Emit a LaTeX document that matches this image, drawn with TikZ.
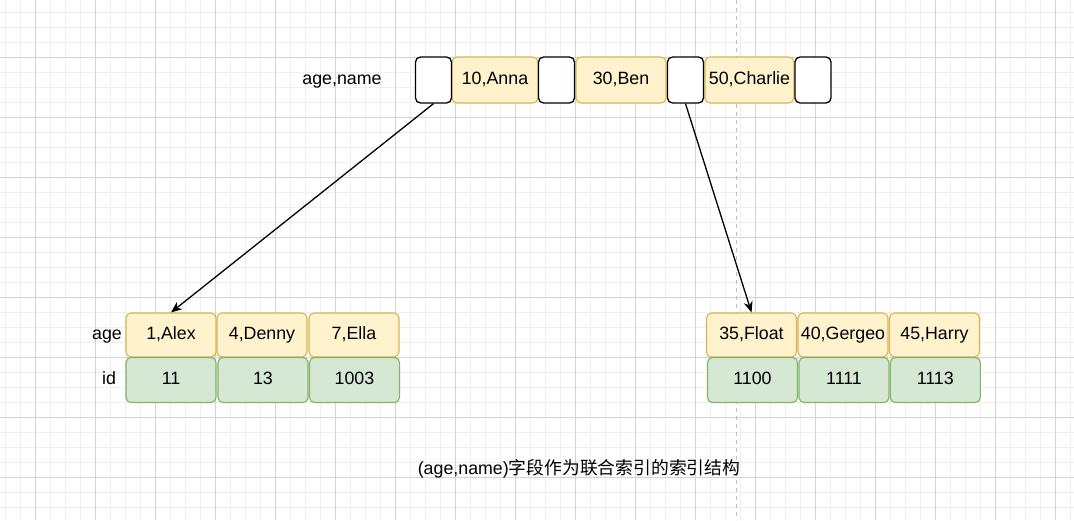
\documentclass[tikz,border=0pt]{standalone}
\usepackage{fontspec}
\setmainfont{Liberation Sans}
\newfontfamily\cjk{Noto Sans CJK SC}
\usetikzlibrary{arrows.meta}
\definecolor{keyfill}{HTML}{FFF2CC}
\definecolor{keydraw}{HTML}{D6B656}
\definecolor{idfill}{HTML}{D5E8D4}
\definecolor{iddraw}{HTML}{82B366}
\definecolor{gridminor}{HTML}{EFEFEF}
\definecolor{gridmajor}{HTML}{D3D3D3}
\definecolor{guide}{HTML}{BDBDBD}
\tikzset{
  cell/.style={rectangle, rounded corners=5pt, inner sep=0pt, line width=1.1pt,
    minimum height=45pt, text height=13pt, text depth=4pt, font=\fontsize{17.8}{20}\selectfont},
  keycell/.style={cell, fill=keyfill, draw=keydraw, minimum width=90pt},
  idcell/.style={cell, fill=idfill, draw=iddraw, minimum width=90pt},
  ptrcell/.style={cell, fill=white, draw=black, line width=1.3pt, minimum width=36pt, minimum height=46pt},
  lbl/.style={inner sep=0pt, text height=13pt, text depth=4pt, font=\fontsize{17.8}{20}\selectfont},
  link/.style={line width=1.3pt, -{Stealth[length=11pt,width=9pt]}}
}
\begin{document}
\begin{tikzpicture}[x=1pt,y=-1pt]
\useasboundingbox (0,0) rectangle (1074,520);
\fill[white] (0,0) rectangle (1074,520);
% grid
\foreach \x in {5.7,20.7,...,1074} \draw[gridminor, line width=1pt] (\x,0) -- (\x,520);
\foreach \y in {12.3,27.3,...,520} \draw[gridminor, line width=1pt] (0,\y) -- (1074,\y);
\foreach \x in {35.7,95.7,...,1074} \draw[gridmajor, line width=1pt] (\x,0) -- (\x,520);
\foreach \y in {57.3,117.3,...,520} \draw[gridmajor, line width=1pt] (0,\y) -- (1074,\y);
% guide
\coordinate (gtop) at (736.5,0);
\coordinate (gbot) at (736.5,520);
\draw[guide, line width=1.3pt, dash pattern=on 4pt off 4pt] (gtop) -- (gbot);

% top row
\node[lbl] (toplbl) at (342,80) {age,name};
\node[keycell, minimum width=86pt, minimum height=46pt] (k1) at (495,80) {10,Anna};
\node[keycell, minimum width=90pt, minimum height=46pt] (k2) at (621,80) {30,Ben};
\node[keycell, minimum width=89pt, minimum height=46pt] (k3) at (749.5,80) {50,Charlie};
\node[ptrcell] (p1) at (433.5,80) {};
\node[ptrcell] (p2) at (556.5,80) {};
\node[ptrcell] (p3) at (685.5,80) {};
\node[ptrcell] (p4) at (813,80) {};

% bottom left leaf
\node[lbl] (agelbl) at (107,335) {age};
\node[lbl] (idlbl) at (109,380) {id};
\node[keycell, minimum height=44pt] (a1) at (171,335) {1,Alex};
\node[keycell, minimum height=44pt] (a2) at (262,335) {4,Denny};
\node[keycell, minimum height=44pt] (a3) at (354,335) {7,Ella};
\node[idcell] (i1) at (171,380) {11};
\node[idcell] (i2) at (263,380) {13};
\node[idcell] (i3) at (354.5,380) {1003};

% bottom right leaf
\node[keycell, minimum height=44pt] (b1) at (751.5,335) {35,Float};
\node[keycell, minimum height=44pt] (b2) at (843,335) {40,Gergeo};
\node[keycell, minimum height=44pt] (b3) at (934.5,335) {45,Harry};
\node[idcell] (j1) at (752.5,380) {1100};
\node[idcell] (j2) at (844,380) {1111};
\node[idcell] (j3) at (935.3,380) {1113};

% links
\draw[link] (p1.south) -- (a1.north);
\draw[link] (p3.south) -- (b1.north);

% caption
\node[lbl] (cap) at (579,470) {(age,name){\cjk 字段作为联合索引的索引结构}};
\end{tikzpicture}
\end{document}
